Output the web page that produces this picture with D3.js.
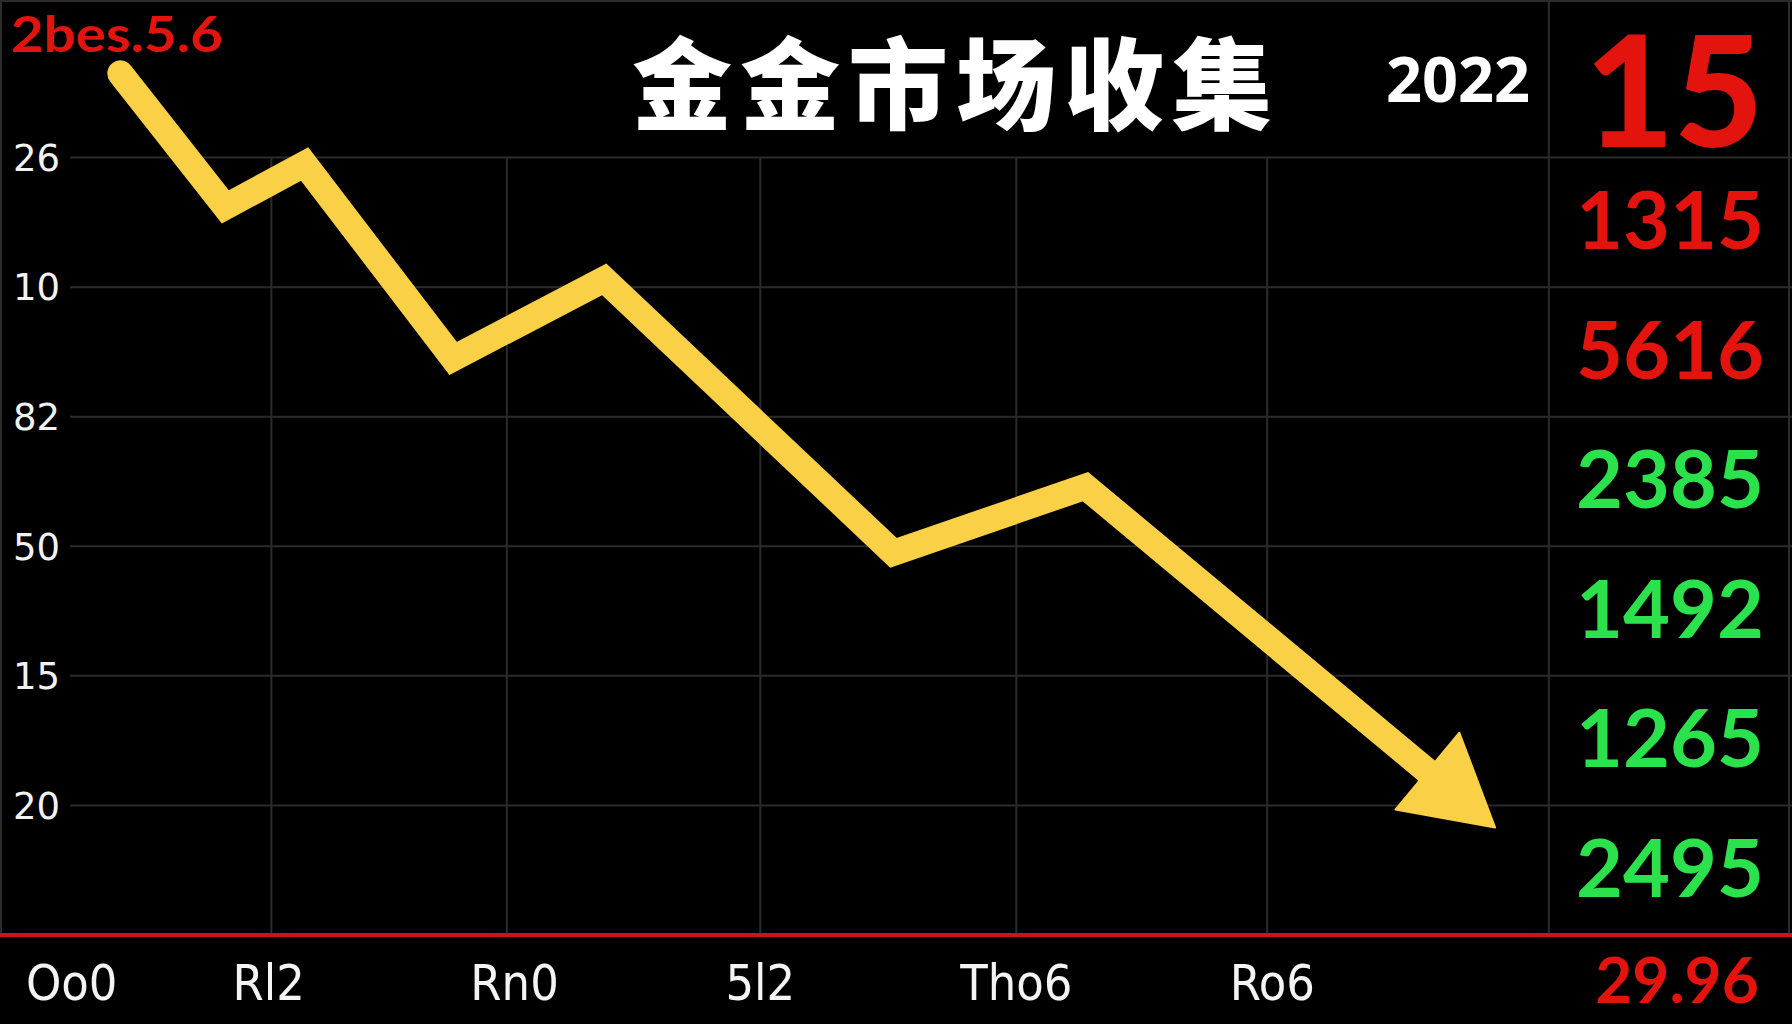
<!DOCTYPE html>
<html>
<head>
<meta charset="utf-8">
<script src="https://cdn.jsdelivr.net/npm/d3@7"></script>
<style>
  html, body { margin: 0; padding: 0; background: #000; }
  svg { display: block; }
</style>
</head>
<body>
<script>
// chart values
var sessionX = [0.47, 0.88, 1.19, 1.77, 2.36, 3.49, 4.24, 5.84];
var priceY   = [6.65, 5.62, 5.95, 4.45, 5.06, 2.95, 3.46, 0.83];

var yTickVals   = [6, 5, 4, 3, 2, 1];
var yTickLabels = ["26", "10", "82", "50", "15", "20"];

var xTickVals   = [0.28, 1.05, 2.01, 2.97, 3.97, 4.97];
var xTickLabels = ["Oo0", "Rl2", "Rn0", "5l2", "Tho6", "Ro6"];
var xGridVals   = [1.06, 1.98, 2.97, 3.97, 4.95];
var panelEdge   = 6.05;

var panelValues = ["1315", "5616", "2385", "1492", "1265", "2495"];
var panelUp     = [false, false, true, true, true, true];
var panelRows   = [5, 4, 3, 2, 1, 0];

var title = "金金市场收集";
var yearLabel = "2022";
var headlineNum = "15";
var cornerLabel = "2bes.5.6";
var footNum = "29.96";

var W = 1792, H = 1024;
var RED = "#e3140e", GREEN = "#2be14c", YELLOW = "#fad146", GRID = "#2b2b2b";

var x = d3.scaleLinear().domain([0, 7]).range([0, W]);
var y = d3.scaleLinear().domain([0, 6]).range([935, 157.6]);

var svg = d3.select("body").append("svg")
    .attr("width", W)
    .attr("height", H)
    .style("background", "#000");

// grid
var grid = svg.append("g").attr("stroke", GRID).attr("stroke-width", 2);
grid.selectAll("line.h")
    .data(yTickVals)
    .enter().append("line")
    .attr("class", "h")
    .attr("x1", 70).attr("x2", W)
    .attr("y1", function(d) { return y(d); })
    .attr("y2", function(d) { return y(d); });
grid.append("line").attr("x1", 0).attr("x2", W).attr("y1", 1).attr("y2", 1);
grid.append("line").attr("x1", 1).attr("x2", 1).attr("y1", 0).attr("y2", y(0));
grid.selectAll("line.v")
    .data(xGridVals)
    .enter().append("line")
    .attr("class", "v")
    .attr("x1", function(d) { return x(d); })
    .attr("x2", function(d) { return x(d); })
    .attr("y1", y(6)).attr("y2", y(0));
grid.append("line")
    .attr("x1", x(panelEdge)).attr("x2", x(panelEdge))
    .attr("y1", 0).attr("y2", y(0));
grid.append("line")
    .attr("x1", W - 3).attr("x2", W - 3)
    .attr("y1", 0).attr("y2", y(0));

// red baseline
svg.append("line")
    .attr("x1", 0).attr("x2", W)
    .attr("y1", y(0)).attr("y2", y(0))
    .attr("stroke", "#c8151b")
    .attr("stroke-width", 4);

// y labels
svg.selectAll("text.ytick")
    .data(yTickVals)
    .enter().append("text")
    .attr("class", "ytick")
    .attr("x", 13)
    .attr("y", function(d) { return y(d); })
    .attr("dy", "0.36em")
    .attr("fill", "#f2f2f2")
    .style("font-family", "'DejaVu Sans', sans-serif")
    .style("font-size", "37px")
    .text(function(d, i) { return yTickLabels[i]; });

// x labels
svg.selectAll("text.xtick")
    .data(xTickVals)
    .enter().append("text")
    .attr("class", "xtick")
    .attr("x", function(d) { return x(d); })
    .attr("y", 1000)
    .attr("text-anchor", "middle")
    .attr("fill", "#f4f4f4")
    .style("font-family", "'DejaVu Sans Condensed', 'DejaVu Sans', sans-serif")
    .style("font-stretch", "condensed")
    .style("font-size", "50px")
    .text(function(d, i) { return xTickLabels[i]; });

// the falling line
var pts = sessionX.map(function(d, i) { return [x(d), y(priceY[i])]; });
var tip = pts[pts.length - 1];
var prev = pts[pts.length - 2];
var dx = tip[0] - prev[0], dy = tip[1] - prev[1];
var len = Math.sqrt(dx * dx + dy * dy);
var ux = dx / len, uy = dy / len;
var headLen = 88, headHalf = 50;
var base = [tip[0] - ux * headLen, tip[1] - uy * headLen];
var shaft = pts.slice(0, -1).concat([[base[0] + ux * 4, base[1] + uy * 4]]);

svg.append("path")
    .attr("d", d3.line()(shaft))
    .attr("fill", "none")
    .attr("stroke", YELLOW)
    .attr("stroke-width", 26)
    .attr("stroke-linejoin", "miter")
    .attr("stroke-linecap", "round");

var head = [
  tip,
  [base[0] - uy * headHalf, base[1] + ux * headHalf],
  [base[0] + uy * headHalf, base[1] - ux * headHalf]
];
svg.append("path")
    .attr("d", d3.line()(head) + "Z")
    .attr("fill", YELLOW)
    .attr("stroke", YELLOW)
    .attr("stroke-width", 2)
    .attr("stroke-linejoin", "round");

// title and top texts
svg.append("text")
    .attr("x", 632)
    .attr("y", 122)
    .attr("fill", "#fff")
    .style("font-family", "'Noto Sans CJK SC', sans-serif")
    .style("font-weight", 900)
    .style("font-size", "100px")
    .style("letter-spacing", "8px")
    .text(title);

svg.append("text")
    .attr("x", 1458)
    .attr("y", 102)
    .attr("text-anchor", "middle")
    .attr("fill", "#fff")
    .style("font-family", "'Open Sans', sans-serif")
    .style("font-weight", 700)
    .style("font-size", "63px")
    .text(yearLabel);

svg.append("text")
    .attr("x", 11)
    .attr("y", 52)
    .attr("fill", RED)
    .attr("textLength", 212)
    .attr("lengthAdjust", "spacingAndGlyphs")
    .style("font-family", "Lato, sans-serif")
    .style("font-weight", 700)
    .style("font-size", "50px")
    .text(cornerLabel);

// right panel
var panelX = 1670;
svg.append("text")
    .attr("x", 1674)
    .attr("y", 147)
    .attr("text-anchor", "middle")
    .attr("fill", RED)
    .style("font-family", "Lato, sans-serif")
    .style("font-weight", 900)
    .style("font-size", "154px")
    .text(headlineNum);

svg.selectAll("text.panel")
    .data(panelValues)
    .enter().append("text")
    .attr("class", "panel")
    .attr("x", panelX)
    .attr("y", function(d, i) { return y(panelRows[i]) - 38; })
    .attr("text-anchor", "middle")
    .attr("fill", function(d, i) { return panelUp[i] ? GREEN : RED; })
    .style("font-family", "Lato, sans-serif")
    .style("font-weight", 700)
    .style("font-size", "81px")
    .text(function(d) { return d; });

svg.append("text")
    .attr("x", 1677)
    .attr("y", 1003)
    .attr("text-anchor", "middle")
    .attr("fill", RED)
    .style("font-family", "Lato, sans-serif")
    .style("font-weight", 700)
    .style("font-size", "64px")
    .text(footNum);
</script>
</body>
</html>
